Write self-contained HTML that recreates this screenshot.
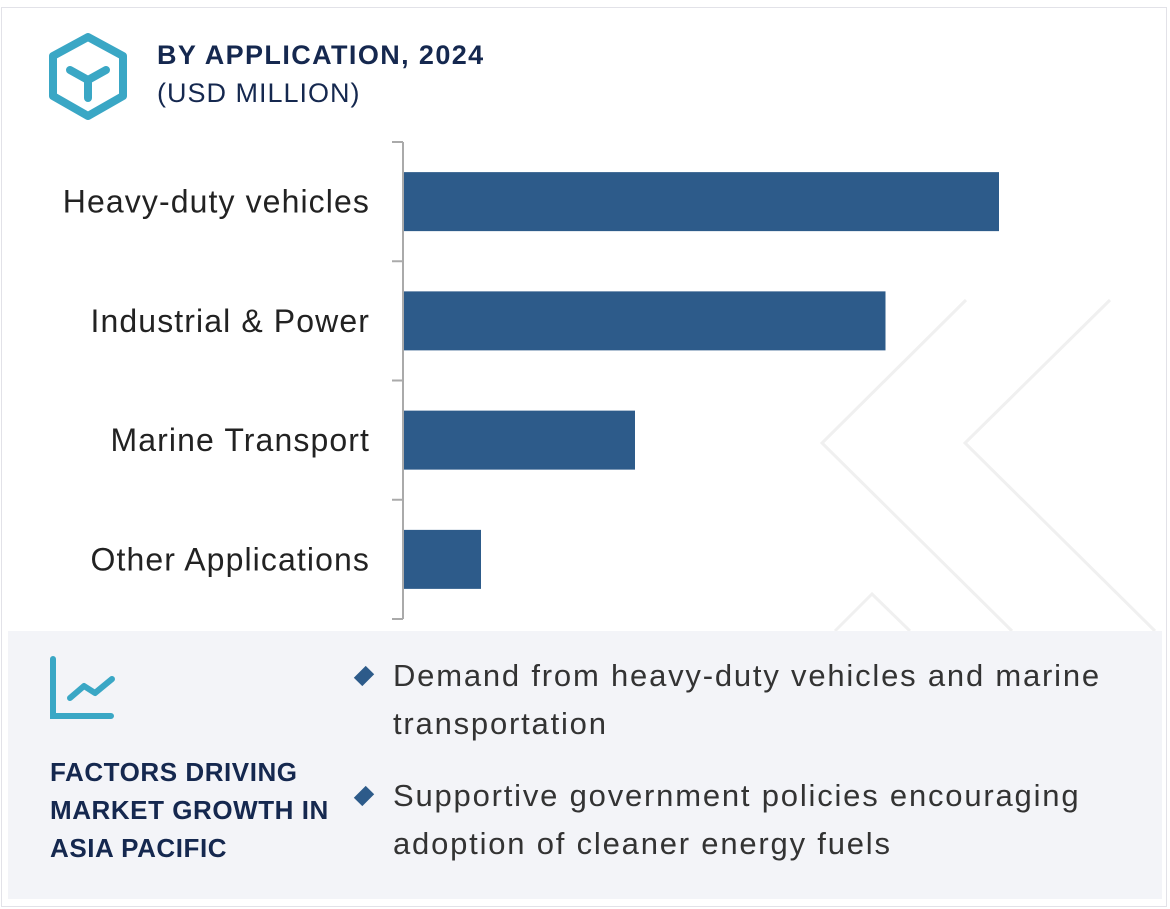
<!DOCTYPE html>
<html><head><meta charset="utf-8"><style>
body{margin:0;width:1170px;height:909px;background:#fff;font-family:"Liberation Sans",Arial,sans-serif;overflow:hidden;position:relative}
.frame{position:absolute;left:1px;top:7px;width:1166px;height:900px;border:1px solid #e2e2e8;box-sizing:border-box}
.t1{position:absolute;left:157px;top:40px;font-size:27px;font-weight:bold;color:#15284f;letter-spacing:1.4px}
.t2{position:absolute;left:157px;top:78px;font-size:27px;color:#15284f;letter-spacing:1px}
.panel{position:absolute;left:8px;top:631px;width:1154px;height:268px;background:#f3f4f8}
.ft{position:absolute;left:50px;top:753px;font-size:26px;font-weight:bold;color:#15284f;line-height:38px;letter-spacing:0.55px}
.b{position:absolute;left:393px;font-size:31px;color:#333;line-height:48px;letter-spacing:1.8px;white-space:nowrap}
.d{position:absolute;left:358px;width:12px;height:12px;background:#2d5b8a;transform:rotate(45deg) scaleY(1.4)}
</style></head><body>
<div class="frame"></div>
<svg style="position:absolute;left:0;top:0" width="1170" height="909">
<polyline points="966,300 822,443 1012,631" fill="none" stroke="#f0f0f0" stroke-width="3"/>
<polyline points="1110,300 965,443 1155,631" fill="none" stroke="#f0f0f0" stroke-width="3"/>
<polyline points="835,631 872,594 910,631" fill="none" stroke="#f0f0f0" stroke-width="3"/>
</svg>
<svg style="position:absolute;left:45px;top:32px" width="90" height="90">
<polygon points="43,5 78,24 78,64 43,84 8,64 8,24" fill="none" stroke="#3aa7c5" stroke-width="8" stroke-linejoin="round"/>
<path d="M25,38 L43,48 L61,38 M43,48 L43,66" fill="none" stroke="#3aa7c5" stroke-width="8" stroke-linecap="round"/>
</svg>
<div class="t1">BY APPLICATION, 2024</div>
<div class="t2">(USD MILLION)</div>
<svg id="chart" style="position:absolute;left:0;top:0" width="1170" height="630"></svg>
<div class="panel"></div>
<svg style="position:absolute;left:46px;top:655px" width="75" height="70">
<path d="M7,4 L7,61 L65,61" fill="none" stroke="#3aa7c5" stroke-width="6" stroke-linecap="round"/>
<path d="M24,43 L38,31 L49,38 L66,24" fill="none" stroke="#3aa7c5" stroke-width="6" stroke-linecap="round" stroke-linejoin="round"/>
</svg>
<div class="ft">FACTORS DRIVING<br>MARKET GROWTH IN<br>ASIA PACIFIC</div>
<div class="d" style="top:670px"></div>
<div class="b" style="top:652px">Demand from heavy-duty vehicles and marine<br>transportation</div>
<div class="d" style="top:790px"></div>
<div class="b" style="top:772px">Supportive government policies encouraging<br>adoption of cleaner energy fuels</div>
<script>
const categories=["Heavy-duty vehicles","Industrial & Power","Marine Transport","Other Applications"];
const values=[1190,963,462,154];
const svg=document.getElementById('chart');const NS='http://www.w3.org/2000/svg';
const x0=404,xScale=v=>v*0.5;
const top0=142,band=119.25;
function mk(t,a){const e=document.createElementNS(NS,t);for(const k in a)e.setAttribute(k,a[k]);svg.appendChild(e);return e;}
const ax=mk('line',{x1:403,y1:top0,x2:403,y2:top0+band*4,stroke:'#aaa','stroke-width':2});


for(let i=0;i<=4;i++){const t=mk('line',{x1:392,y1:top0+band*i,x2:403,y2:top0+band*i,stroke:'#aaa','stroke-width':2});

}
categories.forEach((c,i)=>{const cy=top0+band*(i+0.5);
const r=mk('rect',{x:x0,y:cy-29.5,width:xScale(values[i]),height:59,fill:'#2d5b8a'});


const t=mk('text',{x:370,y:cy+11,'text-anchor':'end','font-size':32,'letter-spacing':1.1,fill:'#222','font-family':'Liberation Sans, Arial, sans-serif'});t.textContent=c;

});
</script>
</body></html>
